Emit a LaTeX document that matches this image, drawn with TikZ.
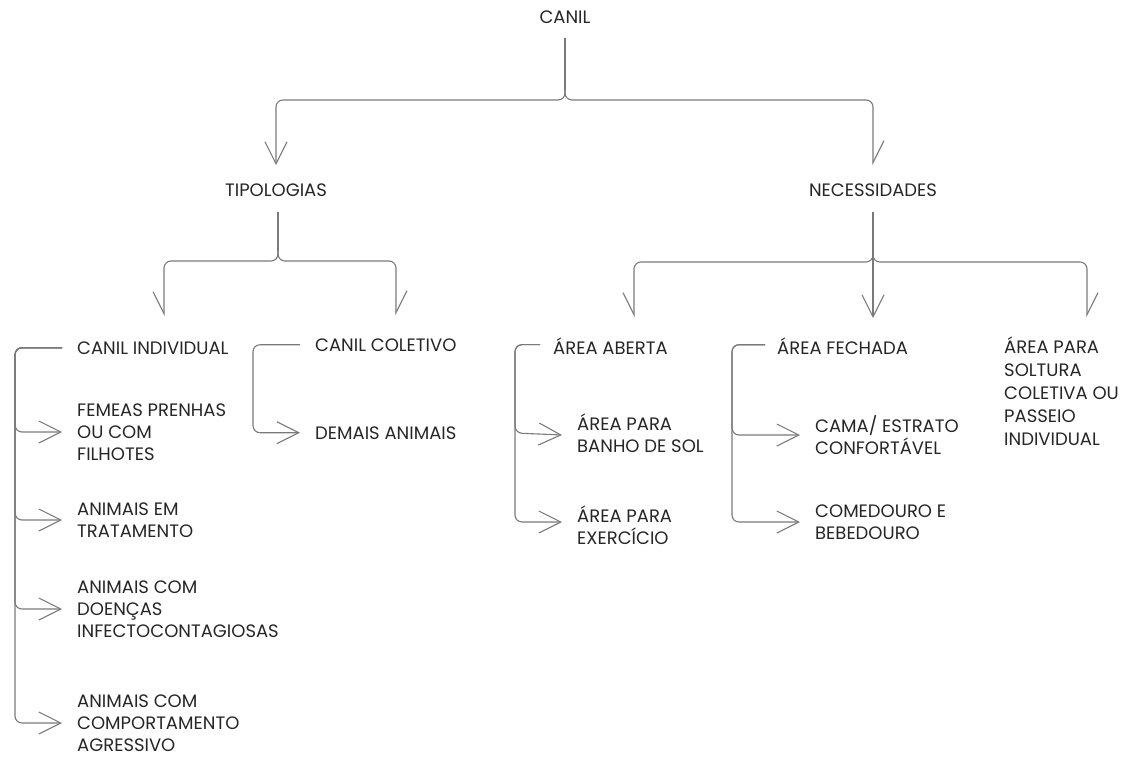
\documentclass[tikz,border=0pt]{standalone}
\usepackage{fontspec}
\setmainfont{Poppins}
\usetikzlibrary{arrows.meta,calc}
\definecolor{txtc}{HTML}{262626}
\definecolor{linec}{HTML}{7A7A7A}
\newcommand{\lbl}{\fontsize{18pt}{22pt}\selectfont}
\tikzset{
  lab/.style={font=\lbl, text=txtc, inner sep=0pt, align=left},
  link/.style={draw=linec, line width=1.1pt, rounded corners=7pt},
  fullhead/.style={-{Straight Barb[length=22pt,width=22pt]}},
  westhead/.style={-{Straight Barb[length=22pt,width=22pt,harpoon,swap]}},
  easthead/.style={-{Straight Barb[length=22pt,width=22pt,harpoon]}},
}
\begin{document}
\begin{tikzpicture}[x=1pt,y=-1pt]
\useasboundingbox (0,0) rectangle (1128,758);

% ---- labels ----
\node[lab] (canil) at (565,17) {CANIL};
\node[lab] (tipo) at (276,190) {TIPOLOGIAS};
\node[lab] (nec) at (873,190) {NECESSIDADES};

\node[lab, anchor=base west] (ci) at (77,354) {CANIL INDIVIDUAL};
\node[lab, anchor=west] (fem) at (77,432) {FEMEAS PRENHAS\\OU COM\\FILHOTES};
\node[lab, anchor=west] (trat) at (77,520) {ANIMAIS EM\\TRATAMENTO};
\node[lab, anchor=west] (doe) at (77,609) {ANIMAIS COM\\DOENÇAS\\INFECTOCONTAGIOSAS};
\node[lab, anchor=west] (agr) at (77,723) {ANIMAIS COM\\COMPORTAMENTO\\AGRESSIVO};

\node[lab, anchor=base west] (cc) at (315,351) {CANIL COLETIVO};
\node[lab, anchor=base west] (dem) at (315,439) {DEMAIS ANIMAIS};

\node[lab, anchor=base west] (ab) at (553,354) {ÁREA ABERTA};
\node[lab, anchor=west] (sol) at (577,433) {ÁREA PARA\\BANHO DE SOL};
\node[lab, anchor=west] (exe) at (577,525) {ÁREA PARA\\EXERCÍCIO};

\node[lab, anchor=base west] (fe) at (777,354) {ÁREA FECHADA};
\node[lab, anchor=west] (cama) at (815,435) {CAMA/ ESTRATO\\CONFORTÁVEL};
\node[lab, anchor=west] (com) at (815,522) {COMEDOURO E\\BEBEDOURO};

\node[lab, anchor=west, font=\fontsize{18pt}{23pt}\selectfont] (sot) at (1004,391)
  {ÁREA PARA\\SOLTURA\\COLETIVA OU\\PASSEIO\\INDIVIDUAL};

% ---- bar levels and free arrow ends ----
\coordinate (barA) at (0,100);
\coordinate (barB) at (0,261);
\coordinate (barC) at (0,262);
\coordinate (tCI) at (164,316);
\coordinate (tCC) at (396,315);
\coordinate (tAB) at (634,317);
\coordinate (tFE) at (873,318);
\coordinate (tSO) at (1087,317);

% ---- CANIL -> first level: trunk once, then the two branches ----
\draw[link] (canil.south |- 0,38) -- (canil.south |- 0,90);
\draw[link, fullhead] (canil.south |- 0,90) -- (canil |- barA) -| (tipo.north |- 0,165);
\draw[link, easthead] (canil.south |- 0,90) -- (canil |- barA) -| (nec.north |- 0,165);

% ---- TIPOLOGIAS -> tipos de canil ----
\draw[link] ($(tipo.south |- 0,212)+(2,0)$) -- ($(tipo.south |- 0,251)+(2,0)$);
\draw[link, westhead] ($(tipo.south |- 0,251)+(2,0)$) -- ($(tipo.south |- barB)+(2,0)$) -| (tCI);
\draw[link, easthead] ($(tipo.south |- 0,251)+(2,0)$) -- ($(tipo.south |- barB)+(2,0)$) -| (tCC);

% ---- NECESSIDADES -> areas ----
\draw[link, fullhead] (nec.south |- 0,212) -- (tFE);
\draw[link, westhead] (nec.south |- 0,252) -- (nec |- barC) -| (tAB);
\draw[link, easthead] (nec.south |- 0,252) -- (nec |- barC) -| (tSO);

% ---- CANIL INDIVIDUAL ----
\coordinate (spI) at (15,0);
\foreach \t in {fem,trat,doe,agr}{
  \draw[link, fullhead] ($(ci.west)+(-15,0)$) -- (spI |- ci.west) -- (spI |- \t.west) -- ($(\t.west)+(-15,0)$);
}

% ---- CANIL COLETIVO ----
\coordinate (spC) at (253,0);
\draw[link, fullhead] ($(cc.west)+(-15,0)$) -- (spC |- cc.west) -- (spC |- dem.west) -- ($(dem.west)+(-15,0)$);

% ---- AREA ABERTA ----
\coordinate (spA) at (515,0);
\draw[link, fullhead] ($(ab.west)+(-13,-1)$) -- ($(spA |- ab.west)+(0,-1)$) -- (spA |- sol.west) -- ($(sol.west)+(-15,2)$);
\draw[link, fullhead] ($(ab.west)+(-13,-1)$) -- ($(spA |- ab.west)+(0,-1)$) -- ($(spA |- exe.west)+(0,-3)$) -- ($(exe.west)+(-15,-3)$);

% ---- AREA FECHADA ----
\coordinate (spF) at (732,0);
\draw[link, fullhead] ($(fe.west)+(-12,-1)$) -- ($(spF |- fe.west)+(0,-1)$) -- (spF |- cama.west) -- ($(cama.west)+(-15,0)$);
\draw[link, fullhead] ($(fe.west)+(-12,-1)$) -- ($(spF |- fe.west)+(0,-1)$) -- (spF |- com.west) -- ($(com.west)+(-15,0)$);
\end{tikzpicture}
\end{document}
